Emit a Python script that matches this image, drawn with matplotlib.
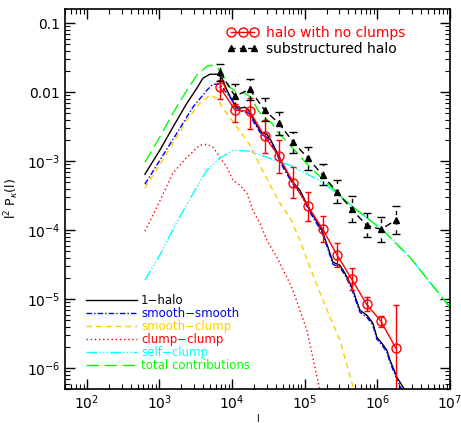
import numpy as np
import matplotlib
matplotlib.use("Agg")
import matplotlib.pyplot as plt
from matplotlib.lines import Line2D

# model curves: multipole l and l^2 P_kappa(l)
l_onehalo = [630, 1010, 1530, 2384, 3275, 3961, 4945, 6370, 7240, 8750, 10930, 12800,
             15000, 17030, 20610, 25720, 30150, 34200, 41390, 50120, 68770, 85900,
             1.18e5, 1.726e5, 2.089e5, 2.443e5, 3.055e5, 3.581e5, 4.198e5, 4.613e5,
             5.754e5, 7.194e5, 8.69e5, 9.863e5, 1.156e6, 1.355e6, 1.493e6, 1.862e6, 2.4e6]
p_onehalo = [6.48e-4, 1.44e-3, 3.11e-3, 6.93e-3, 0.01143, 0.01596, 0.01824, 0.01824,
             0.01596, 0.0100, 6.48e-3, 5.86e-3, 6.06e-3, 5.48e-3, 3.68e-3, 2.55e-3,
             2.46e-3, 2.01e-3, 1.35e-3, 8.75e-4, 4.97e-4, 3.80e-4, 1.95e-4, 1.0e-4,
             5.67e-5, 3.44e-5, 3.11e-5, 2.38e-5, 1.71e-5, 1.35e-5, 6.93e-6, 5.86e-6,
             4.49e-6, 2.81e-6, 2.30e-6, 1.82e-6, 1.31e-6, 7.41e-7, 4.8e-7]

l_ss = [630, 1010, 1736, 2884, 4498, 5445, 6790, 9330, 11640, 13650, 17030, 20610,
        25720, 30150, 34200, 41390, 50120, 68770, 85900, 1.18e5, 1.726e5, 2.089e5,
        2.443e5, 3.055e5, 3.581e5, 4.198e5, 4.613e5, 5.754e5, 7.194e5, 8.69e5,
        9.863e5, 1.156e6, 1.355e6, 1.493e6, 1.862e6, 2.2e6]
p_ss = [4.64e-4, 1.03e-3, 2.55e-3, 6.06e-3, 0.01069, 0.01306, 0.01306, 8.47e-3,
        5.86e-3, 5.30e-3, 4.96e-3, 3.44e-3, 2.38e-3, 2.23e-3, 1.88e-3, 1.26e-3,
        8.19e-4, 4.64e-4, 3.56e-4, 1.82e-4, 9.36e-5, 5.31e-5, 3.21e-5, 2.91e-5,
        2.23e-5, 1.60e-5, 1.26e-5, 6.48e-6, 5.48e-6, 4.20e-6, 2.63e-6, 2.16e-6,
        1.71e-6, 1.22e-6, 6.93e-7, 4.8e-7]

l_sc = [630, 1265, 2384, 3600, 4945, 6180, 7470, 9930, 14090, 17580, 24150, 35320,
        45540, 62520, 85900, 1.18e5, 1.782e5, 3.055e5, 4.76e5]
p_sc = [4.06e-4, 1.31e-3, 3.93e-3, 6.93e-3, 9.06e-3, 8.19e-3, 5.86e-3, 3.93e-3,
        2.38e-3, 1.71e-3, 8.75e-4, 4.06e-4, 2.46e-4, 1.54e-4, 7.16e-5, 2.91e-5,
        9.68e-6, 2.55e-6, 4.8e-7]

l_cc = [630, 921, 1530, 2384, 3600, 4498, 5445, 6790, 8480, 10250, 12800, 16000,
        19350, 24150, 30150, 41390, 56890, 68770, 1.072e5, 1.62e5]
p_cc = [9.68e-5, 2.16e-4, 6.70e-4, 1.14e-3, 1.71e-3, 1.76e-3, 1.60e-3, 1.14e-3,
        8.19e-4, 5.31e-4, 4.49e-4, 3.44e-4, 1.95e-4, 1.26e-4, 7.16e-5, 4.06e-5,
        2.08e-5, 1.35e-5, 3.56e-6, 4.8e-7]

l_self = [630, 1010, 1736, 3075, 4498, 6790, 10250, 17580, 30150, 62520, 1.782e5,
          5.236e5, 1.194e6, 2.812e6, 5.309e6, 1e7]
p_self = [1.88e-5, 4.35e-5, 1.31e-4, 3.80e-4, 7.41e-4, 1.105e-3, 1.44e-3, 1.40e-3,
          1.14e-3, 8.75e-4, 4.97e-4, 1.95e-4, 1.0e-4, 4.06e-5, 1.76e-5, 7.66e-6]

l_total = [630, 1010, 1530, 2384, 3275, 4498, 5445, 6370, 7960, 9330, 11640, 15000,
           18740, 22670, 28310, 35320, 42730, 66680, 1.18e5, 2.443e5, 3.581e5,
           5.236e5, 1.194e6, 2.812e6, 5.309e6, 1e7]
p_total = [9.68e-4, 2.23e-3, 4.96e-3, 0.01069, 0.01763, 0.0238, 0.0246, 0.0223,
           0.01596, 0.0118, 0.0100, 9.68e-3, 8.19e-3, 5.48e-3, 4.20e-3, 3.56e-3,
           2.63e-3, 1.60e-3, 8.19e-4, 4.06e-4, 2.72e-4, 1.95e-4, 1.0e-4, 4.06e-5,
           1.76e-5, 7.66e-6]

# simulation measurements
l_sim = [6.8e3, 1.10e4, 1.75e4, 2.8e4, 4.4e4, 7.0e4, 1.11e5, 1.77e5, 2.8e5, 4.45e5,
         7.1e5, 1.12e6, 1.8e6]
p_noclump = [0.0118, 5.48e-3, 5.30e-3, 2.30e-3, 1.18e-3, 4.80e-4, 2.23e-4, 1.03e-4,
             4.35e-5, 1.95e-5, 8.47e-6, 4.80e-6, 1.95e-6]
hi_noclump = [0.01493, 6.70e-3, 8.19e-3, 3.93e-3, 2.01e-3, 8.19e-4, 3.56e-4, 1.60e-4,
              6.48e-5, 2.81e-5, 1.07e-5, 5.67e-6, 8.18e-6]
lo_noclump = [7.92e-3, 3.68e-3, 2.91e-3, 1.31e-3, 6.70e-4, 2.91e-4, 1.35e-4, 6.70e-5,
              2.91e-5, 1.35e-5, 6.70e-6, 3.93e-6, 4.06e-7]
p_sub = [0.0195, 8.75e-3, 0.0111, 5.48e-3, 3.56e-3, 1.88e-3, 1.105e-3, 6.27e-4,
         3.56e-4, 2.01e-4, 1.18e-4, 1.03e-4, 1.40e-4]
hi_sub = [0.0255, 0.0131, 0.0154, 8.19e-3, 5.13e-3, 2.63e-3, 1.60e-3, 9.06e-4,
          5.31e-4, 3.11e-4, 1.76e-4, 1.54e-4, 2.23e-4]
lo_sub = [0.0144, 6.27e-3, 7.66e-3, 3.80e-3, 2.38e-3, 1.31e-3, 7.41e-4, 4.49e-4,
          2.46e-4, 1.31e-4, 7.92e-5, 6.70e-5, 8.75e-5]

gold = "#ffcc00"
lime = "#00ff00"

fig = plt.figure(figsize=(4.61, 4.23), dpi=100)
ax = fig.add_axes([0.141, 0.0804, 0.835, 0.898])

ax.plot(l_onehalo, p_onehalo, color="black", lw=1.0, label="1\u2212halo")
ax.plot(l_ss, p_ss, color="blue", lw=1.0, ls=(0, (4, 1.5, 1, 1.5)), label="smooth\u2212smooth")
ax.plot(l_sc, p_sc, color=gold, lw=1.0, ls=(0, (4, 3)), label="smooth\u2212clump")
ax.plot(l_cc, p_cc, color="red", lw=1.0, ls=(0, (1, 2)), label="clump\u2212clump")
ax.plot(l_self, p_self, color="cyan", lw=1.0, ls=(0, (8, 1.5, 1, 1.5, 1, 1.5, 1, 1.5)),
        label="self\u2212clump")
ax.plot(l_total, p_total, color=lime, lw=1.0, ls=(0, (9, 4)), label="total contributions")

p_arr = np.array(p_noclump)
eb1 = ax.errorbar(l_sim, p_noclump,
                  yerr=[p_arr - np.array(lo_noclump), np.array(hi_noclump) - p_arr],
                  color="red", lw=1.0, marker="o", ms=6.5, mfc="none", mec="red",
                  mew=1.0, capsize=2.5, elinewidth=1.0, capthick=1.0)
s_arr = np.array(p_sub)
eb2 = ax.errorbar(l_sim, p_sub,
                  yerr=[s_arr - np.array(lo_sub), np.array(hi_sub) - s_arr],
                  color="black", lw=1.0, ls=(0, (5, 3)), marker="^", ms=5,
                  capsize=3, elinewidth=1.0, capthick=1.0)
eb2[2][0].set_linestyle((0, (3, 4)))

ax.set_xscale("log")
ax.set_yscale("log")
ax.set_xlim(50, 1e7)
ax.set_ylim(5e-7, 0.16)

ax.set_yticks([1e-6, 1e-5, 1e-4, 1e-3, 1e-2, 1e-1])
ax.set_yticklabels([r"$10^{-6}$", r"$10^{-5}$", r"$10^{-4}$", r"$10^{-3}$", "0.01", "0.1"])
ax.set_xticks([1e2, 1e3, 1e4, 1e5, 1e6, 1e7])
ax.set_xticklabels([r"$10^{2}$", r"$10^{3}$", r"$10^{4}$", r"$10^{5}$", r"$10^{6}$", r"$10^{7}$"])
ax.tick_params(which="both", direction="in", top=True, right=True, labelsize=10)
ax.tick_params(which="major", length=7, width=1.0)
ax.tick_params(which="minor", length=3.5, width=0.8)
for sp in ax.spines.values():
    sp.set_linewidth(1.2)

ax.set_xlabel("l", fontsize=7)
ax.xaxis.set_label_coords(0.5, -0.065)
ax.set_ylabel(r"l$^2$ P$_\kappa$(l)", fontsize=9)
ax.yaxis.set_label_coords(-0.115, 0.5)

# model legend, bottom left
leg1 = ax.legend(loc="lower left", bbox_to_anchor=(0.055, 0.045), frameon=False,
                 fontsize=8.5, handlelength=4.3, handletextpad=0.35, labelspacing=0.0,
                 borderpad=0, borderaxespad=0, labelcolor="linecolor")
ax.add_artist(leg1)

# measurement legend, top
h_noclump = Line2D([], [], color="red", lw=1.0, marker="o", ms=6.5, mfc="none", mec="red")
h_sub = Line2D([], [], color="black", lw=1.0, ls=(0, (3, 3)), marker="^", ms=5)
ax.legend([h_noclump, h_sub], ["halo with no clumps", "substructured halo"],
          loc="upper left", bbox_to_anchor=(0.42, 0.955), frameon=False, fontsize=10,
          numpoints=3, handlelength=2.3, handletextpad=0.55, labelspacing=0.15,
          borderpad=0, borderaxespad=0, labelcolor=["red", "black"])

fig.savefig("out.png", dpi=100)
